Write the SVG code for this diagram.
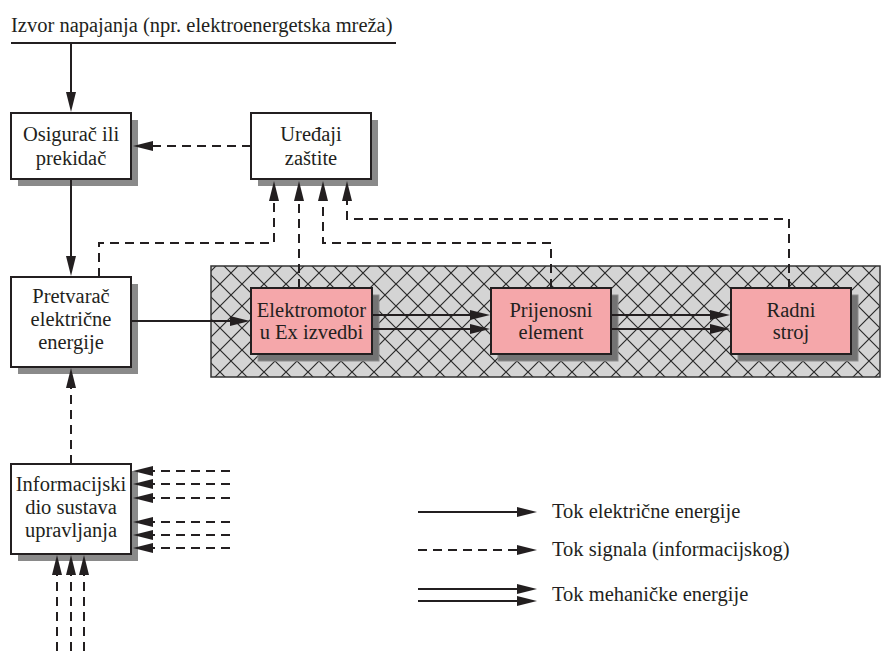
<svg xmlns="http://www.w3.org/2000/svg" width="881" height="651" viewBox="0 0 881 651">
<style>
text{font-family:"Liberation Serif","Times New Roman",serif;font-size:20.5px;fill:#231f20}
.c{text-anchor:middle}
.box{fill:#fff;stroke:#231f20;stroke-width:2}
.pbox{fill:#f5a7aa;stroke:#231f20;stroke-width:2}
.sh{fill:#8a8a8a}
.psh{fill:#737373;stroke:#8c8c8c;stroke-width:1}
.s{fill:none;stroke:#231f20;stroke-width:2}
.d{fill:none;stroke:#231f20;stroke-width:2;stroke-dasharray:9 6}
.a{marker-end:url(#ah)}
</style>
<defs>
<marker id="ah" markerUnits="userSpaceOnUse" markerWidth="20" markerHeight="10" refX="10" refY="5" orient="auto" overflow="visible">
<path d="M0,0 L20,5 L0,10 z" fill="#231f20" stroke="none"/>
</marker>
<pattern id="hatch" patternUnits="userSpaceOnUse" x="0" y="262" width="22" height="22">
<rect width="22" height="22" fill="#d4d4d4"/>
<path d="M0,0 L22,22 M22,0 L0,22" stroke="#2a2a2a" stroke-width="1.2"/>
</pattern>
</defs>
<rect width="881" height="651" fill="#fff"/>

<g id="source">
<text x="11" y="32">Izvor napajanja (npr. elektroenergetska mreža)</text>
<path class="s" d="M11,43 H396"/>
</g>

<g id="ex-zone">
<rect x="211" y="266" width="669" height="111" fill="url(#hatch)" stroke="#333" stroke-width="1.5"/>
</g>

<g id="osigurac">
<rect class="sh" x="18" y="120" width="120" height="66"/>
<rect class="box" x="11" y="113" width="120" height="66"/>
<text class="c" x="71" y="141">Osigurač ili</text>
<text class="c" x="71" y="165">prekidač</text>
</g>

<g id="uredaji">
<rect class="sh" x="258" y="120" width="120" height="66"/>
<rect class="box" x="251" y="113" width="120" height="66"/>
<text class="c" x="311" y="141">Uređaji</text>
<text class="c" x="311" y="165">zaštite</text>
</g>

<g id="pretvarac">
<rect class="sh" x="18" y="284" width="120" height="90"/>
<rect class="box" x="11" y="277" width="120" height="90"/>
<text class="c" x="71" y="303">Pretvarač</text>
<text class="c" x="71" y="326">električne</text>
<text class="c" x="71" y="349">energije</text>
</g>

<g id="informacijski">
<rect class="sh" x="18" y="471" width="120" height="90"/>
<rect class="box" x="11" y="464" width="120" height="90"/>
<text class="c" x="71" y="491">Informacijski</text>
<text class="c" x="71" y="514">dio sustava</text>
<text class="c" x="71" y="537">upravljanja</text>
</g>

<g id="elektromotor">
<rect class="psh" x="258" y="295" width="121" height="66"/>
<rect class="pbox" x="251" y="288" width="121" height="66"/>
<text class="c" x="311.5" y="317">Elektromotor</text>
<text class="c" x="311.5" y="339">u Ex izvedbi</text>
</g>

<g id="prijenosni">
<rect class="psh" x="498" y="295" width="120" height="66"/>
<rect class="pbox" x="491" y="288" width="120" height="66"/>
<text class="c" x="551" y="317">Prijenosni</text>
<text class="c" x="551" y="339">element</text>
</g>

<g id="radni">
<rect class="psh" x="738" y="295" width="120" height="66"/>
<rect class="pbox" x="731" y="288" width="120" height="66"/>
<text class="c" x="791" y="317">Radni</text>
<text class="c" x="791" y="339">stroj</text>
</g>

<g id="connectors">
<path class="s a" d="M71,43 V102"/>
<path class="s a" d="M71,179 V266"/>
<path class="s a" d="M131,321 H240"/>
<path class="d a" d="M251,146 H143"/>
<path class="d a" d="M99,277 V243 H274 V191"/>
<path class="d a" d="M299,288 V191"/>
<path class="d a" d="M551,288 V243 H323 V191"/>
<path class="d a" d="M789,288 V219 H347 V191"/>
<path class="s a" d="M372,315 H480"/>
<path class="s a" d="M372,329 H480"/>
<path class="s a" d="M611,315 H720"/>
<path class="s a" d="M611,329 H720"/>
<path class="d a" d="M71,464 V378"/>
<path class="d a" d="M230,471 H143"/>
<path class="d a" d="M230,484 H143"/>
<path class="d a" d="M230,498 H143"/>
<path class="d a" d="M230,522 H143"/>
<path class="d a" d="M230,535 H143"/>
<path class="d a" d="M230,548 H143"/>
<path class="d a" d="M57,651 V565"/>
<path class="d a" d="M71,651 V565"/>
<path class="d a" d="M84,651 V565"/>
</g>

<g id="legend">
<path class="s a" d="M418,512 H527"/>
<text x="552" y="518">Tok električne energije</text>
<path class="d a" d="M418,550 H527"/>
<text x="552" y="556">Tok signala (informacijskog)</text>
<path class="s a" d="M418,589 H527"/>
<path class="s a" d="M418,601 H527"/>
<text x="552" y="601">Tok mehaničke energije</text>
</g>
</svg>
